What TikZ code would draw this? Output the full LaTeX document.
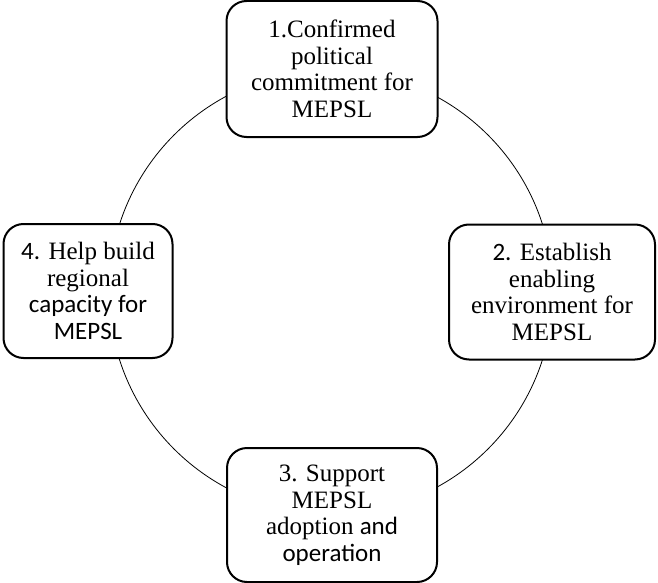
\documentclass[tikz,border=0pt]{standalone}
\usepackage{fontspec}
\setmainfont{Liberation Serif}
\newfontfamily\carlitofont{Carlito}
\begin{document}
\begin{tikzpicture}[x=1pt,y=1pt,
  stagebox/.style={draw, line width=2pt, rounded corners=20pt, fill=white, align=center,
    font=\fontsize{25}{26.5}\selectfont, inner sep=0pt},
  ring/.style={draw, circle, line width=0.8pt, inner sep=0pt}]
\useasboundingbox (0,0) rectangle (658,-583);
\node[ring, minimum size=444pt] (c) at (331,-292) {};
\node[stagebox, minimum width=211pt, minimum height=136pt] (s1) at (332,-69)
  {1.Confirmed\\political\\commitment for\\MEPSL};
\node[stagebox, minimum width=206pt, minimum height=135pt] (s2) at (552,-292)
  {{\carlitofont 2.} Establish\\enabling\\environment for\\MEPSL};
\node[stagebox, minimum width=210pt, minimum height=134pt] (s3) at (332,-515)
  {3. Support\\MEPSL\\adoption {\carlitofont and}\\{\carlitofont operation}};
\node[stagebox, minimum width=169pt, minimum height=134pt] (s4) at (88,-291)
  {{\carlitofont 4.} Help build\\regional\\{\carlitofont capacity for}\\{\carlitofont MEPSL}};
\end{tikzpicture}
\end{document}
